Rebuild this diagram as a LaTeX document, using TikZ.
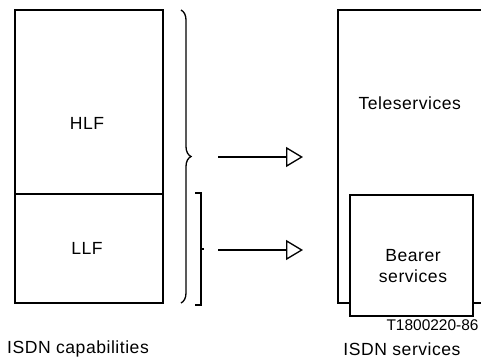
\documentclass[tikz,border=0pt]{standalone}
\usepackage{fontspec}
\setsansfont{Liberation Sans}
\newfontfamily\widefont[LetterSpace=3]{Liberation Sans}
\usetikzlibrary{arrows.meta,decorations.pathreplacing}
\tikzset{every picture/.style={/utils/exec={\sffamily}}}
\tikzset{
	txt/.style={font=\widefont\fontsize{10}{12}\selectfont},
	tag/.style={font=\sffamily\fontsize{8.8}{10}\selectfont, anchor=west},
	arr/.style={-{Triangle[open, length=0.34cm, width=0.4cm]}},
}

\begin{document}
\begin{tikzpicture}[x=0.02cm, y=-0.02cm, line width=0.75pt]
		\useasboundingbox (0,0) rectangle (481,363);
		\clip (0,0) rectangle (481,363);

		\draw (15,10) rectangle (163,303);
		\draw (15,194) -- (163,194);
		\node[txt] (hlf) at (87,123) {HLF};
		\node[txt] (llf) at (87,248) {LLF};
		\node[txt] (cap) at (78,349) {ISDN capabilities};

		\draw[decorate, decoration={brace, amplitude=0.2cm}] (181,10) -- (181,303);
		\draw (195,193) -- (201,193) -- (201,305) -- (195,305);
		\draw (201,249) -- (204,249);

		\coordinate (hlfout) at (218,157);
		\coordinate (telein) at (303,157);
		\coordinate (llfout) at (218,250);
		\coordinate (bearin) at (303,250);
		\draw[arr] (hlfout) -- (telein);
		\draw[arr] (llfout) -- (bearin);

		\draw (500,10) -- (338,10) -- (338,303) -- (350,303);
		\draw (473,303) -- (500,303);
		\draw[fill=white] (350,195) rectangle (473,316);
		\node[txt, anchor=west] (tele) at (352,103) {Teleservices};
		\node[txt, align=center] (bear) at (413,266) {Bearer\\services};

		\node[tag] (ref) at (380,325) {T1800220-86};
		\node[txt] (serv) at (402,349) {ISDN services};

	\end{tikzpicture}
\end{document}
